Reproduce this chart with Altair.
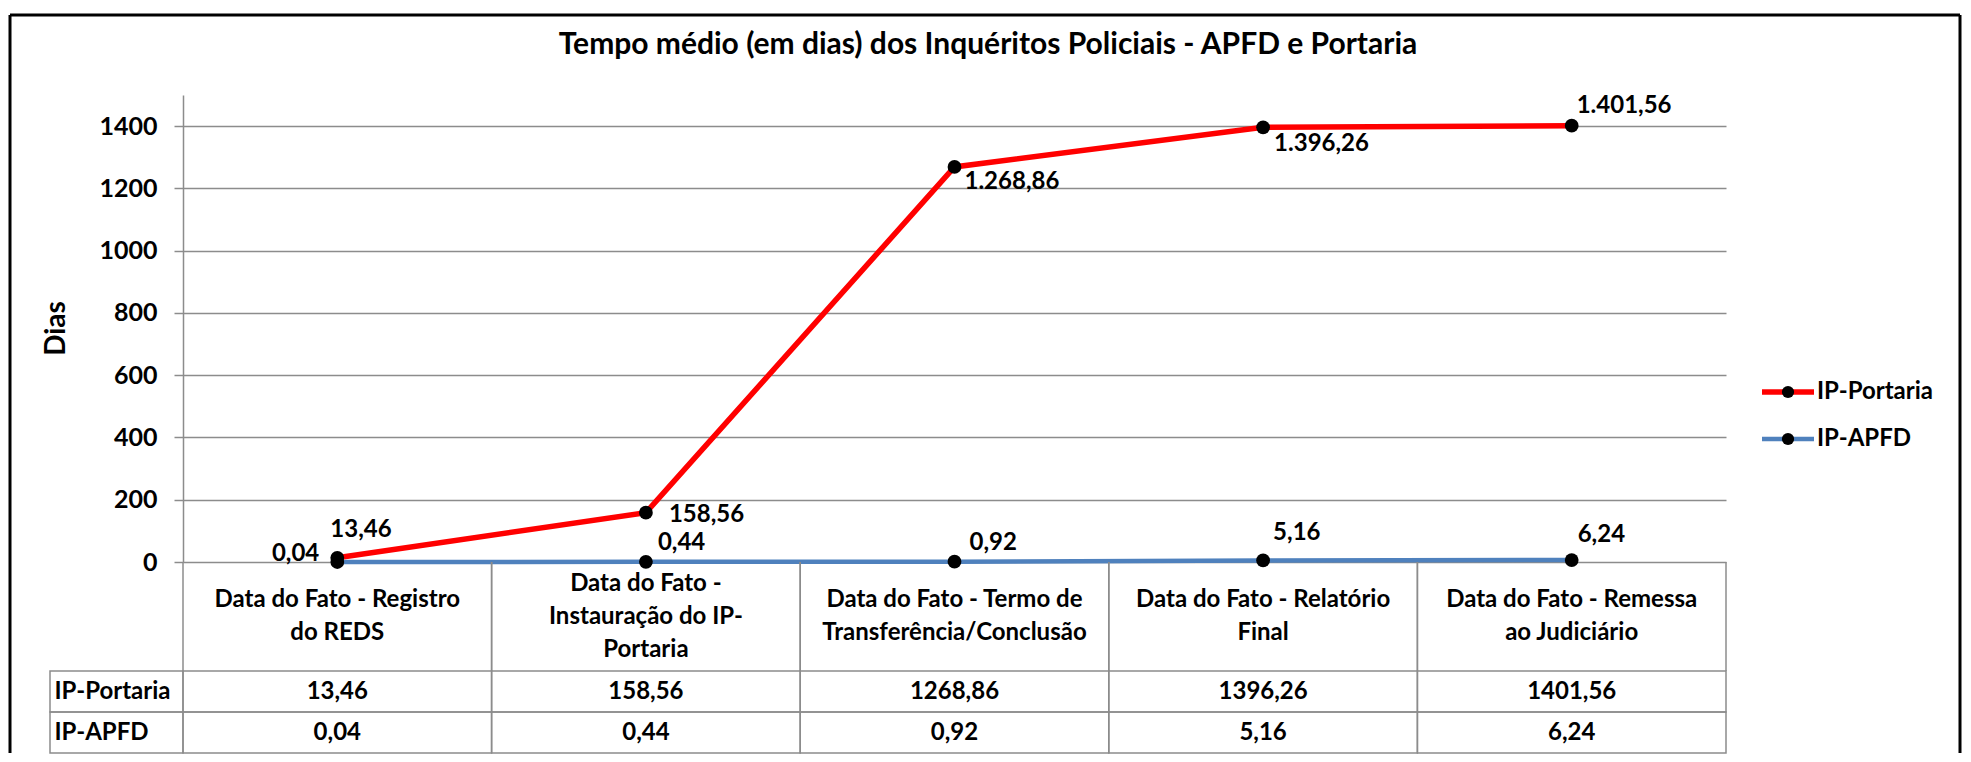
import altair as alt
import pandas as pd

# ---------------- data ----------------
categories = [
    "Data do Fato - Registro\ndo REDS",
    "Data do Fato -\nInstauração do IP-\nPortaria",
    "Data do Fato - Termo de\nTransferência/Conclusão",
    "Data do Fato - Relatório\nFinal",
    "Data do Fato - Remessa\nao Judiciário",
]
series_names = ["IP-Portaria", "IP-APFD"]
portaria = [13.46, 158.56, 1268.86, 1396.26, 1401.56]
apfd = [0.04, 0.44, 0.92, 5.16, 6.24]
y_ticks = [0, 200, 400, 600, 800, 1000, 1200, 1400]
title_text = "Tempo médio (em dias) dos Inquéritos Policiais - APFD e Portaria"
y_title = "Dias"

# ---------------- styles ----------------
FONT = "Lato"
colors = ["#FF0000", "#4F81BD"]
line_widths = [5.5, 4.5]
GRID = "#8c8c8c"
W, H_TOP, H_HEAD, H_ROWS = 1543, 467, 109, 82
LH = 33  # header line height
FS = 24  # general text size
MARKER = 190

# label placement per point: (align, dx, dy)
label_style = {
    ("IP-Portaria", 0): ("left", -7, -28),
    ("IP-Portaria", 1): ("left", 23, 2),
    ("IP-Portaria", 2): ("left", 10, 15),
    ("IP-Portaria", 3): ("left", 11, 17),
    ("IP-Portaria", 4): ("left", 5, -20),
    ("IP-APFD", 0): ("right", -18, -8),
    ("IP-APFD", 1): ("left", 12, -19),
    ("IP-APFD", 2): ("left", 15, -19),
    ("IP-APFD", 3): ("left", 10, -27),
    ("IP-APFD", 4): ("left", 6, -25),
}


def br_num(v, thousands):
    s = f"{v:,.2f}" if thousands else f"{v:.2f}"
    return s.replace(",", "X").replace(".", ",").replace("X", ".")


records = []
for s, vals in zip(series_names, [portaria, apfd]):
    for i, (c, v) in enumerate(zip(categories, vals)):
        records.append(dict(series=s, cat=c, idx=i, value=v,
                            chart_label=br_num(v, True),
                            table_label=br_num(v, False)))
df = pd.DataFrame(records)
df_cats = pd.DataFrame({"cat": categories, "nlines": [c.count("\n") + 1 for c in categories]})

X = alt.X("cat:N", sort=categories, scale=alt.Scale(type="point", padding=0.5), axis=None)
Y = alt.Y(
    "value:Q",
    scale=alt.Scale(domain=[0, 1500], nice=False),
    axis=alt.Axis(
        values=y_ticks, format="d", grid=True, gridColor=GRID, gridWidth=1.5,
        domainColor=GRID, domainWidth=1.5, tickColor=GRID, tickWidth=1.5, tickSize=9,
        labelPadding=17, labelFont=FONT, labelFontSize=25, labelFontWeight="bold",
        labelColor="black", title=y_title, titleFont=FONT, titleFontSize=28,
        titleFontWeight="bold", titleColor="black", titleX=-127, titleY=233,
        titleAngle=270, titleAlign="center", titleBaseline="middle",
    ),
)
color = alt.Color("series:N", scale=alt.Scale(domain=series_names, range=colors), legend=None)
swidth = alt.StrokeWidth("series:N", scale=alt.Scale(domain=series_names, range=line_widths), legend=None)

base = alt.Chart(df)
lines = base.mark_line().encode(x=X, y=Y, color=color, strokeWidth=swidth, detail="series:N")
points = base.mark_circle(size=MARKER, color="black", opacity=1).encode(x=X, y=Y)

label_layers = []
for (s, i), (al, dx, dy) in label_style.items():
    label_layers.append(
        base.transform_filter((alt.datum.series == s) & (alt.datum.idx == i))
        .mark_text(align=al, baseline="middle", dx=dx, dy=dy, font=FONT,
                   fontSize=FS, fontWeight="bold", color="black")
        .encode(x=X, y=Y, text="chart_label:N")
    )

dummy = alt.Chart(pd.DataFrame({"a": [0]}))
frame = [
    dummy.mark_rule(color="black", strokeWidth=3).encode(
        x=alt.value(-173), y=alt.value(-80), y2=alt.value(658)),
    dummy.mark_rule(color="black", strokeWidth=3).encode(
        x=alt.value(-173), x2=alt.value(1777), y=alt.value(-80)),
    dummy.mark_rule(color="black", strokeWidth=3).encode(
        x=alt.value(1777), y=alt.value(-80), y2=alt.value(658)),
]
title = alt.Chart(pd.DataFrame({"t": [title_text]})).mark_text(
    font=FONT, fontSize=30, fontWeight="bold", color="black",
    align="center", baseline="middle",
).encode(x=alt.value(805), y=alt.value(-50), text="t:N")

legend_layers = []
for k, s in enumerate(series_names):
    ly = 297 + 47 * k
    ld = alt.Chart(pd.DataFrame({"series": [s]}))
    legend_layers += [
        ld.mark_rule(color=colors[k], strokeWidth=line_widths[k]).encode(
            x=alt.value(1579), x2=alt.value(1631), y=alt.value(ly)),
        ld.mark_circle(size=150, color="black", opacity=1).encode(
            x=alt.value(1605), y=alt.value(ly)),
        ld.mark_text(font=FONT, fontSize=FS, fontWeight="bold", color="black",
                     align="left", baseline="middle").encode(
            x=alt.value(1634), y=alt.value(ly), text="series:N"),
    ]

top = alt.layer(*frame, title, *legend_layers, lines, points, *label_layers).properties(
    width=W, height=H_TOP)

# ---------------- table: header row ----------------
band = alt.Scale(paddingInner=0, paddingOuter=0)
XB = alt.X("cat:N", sort=categories, scale=band, axis=None)
hbase = alt.Chart(df_cats)
head_layers = [
    hbase.mark_rule(color=GRID, strokeWidth=1.5).encode(
        x=alt.X("cat:N", sort=categories, bandPosition=0, scale=band, axis=None)),
    hbase.mark_rule(color=GRID, strokeWidth=1.5).encode(
        x=alt.X("cat:N", sort=categories, bandPosition=1, scale=band, axis=None)),
]
for n in sorted(set(df_cats["nlines"])):
    head_layers.append(
        hbase.transform_filter(alt.datum.nlines == n).mark_text(
            font=FONT, fontSize=FS, fontWeight="bold", color="black",
            align="center", baseline="middle", lineBreak="\n", lineHeight=LH,
            dy=-(n - 1) * LH / 2,
        ).encode(x=XB, y=alt.value(H_HEAD / 2), text="cat:N")
    )
head = alt.layer(*head_layers).properties(width=W, height=H_HEAD)

# ---------------- table: value rows ----------------
YR = alt.Y("series:N", sort=series_names, scale=band,
           axis=alt.Axis(title=None, ticks=False, tickSize=0, domain=False, labelAlign="left",
                         labelPadding=129, labelFont=FONT, labelFontSize=FS,
                         labelFontWeight="bold", labelColor="black", labelBaseline="middle"))
rbase = alt.Chart(df)
rows = alt.layer(
    rbase.mark_rect(fillOpacity=0, stroke=GRID, strokeWidth=1.5).encode(x=XB, y=YR),
    alt.Chart(pd.DataFrame({"series": series_names})).mark_rect(
        fillOpacity=0, stroke=GRID, strokeWidth=1.5).encode(
        x=alt.value(-133), x2=alt.value(0), y=YR),
    rbase.mark_text(font=FONT, fontSize=FS, fontWeight="bold", color="black",
                    align="center", baseline="middle").encode(x=XB, y=YR, text="table_label:N"),
).properties(width=W, height=H_ROWS)

chart = alt.vconcat(top, head, rows, spacing=0, bounds="flush").properties(
    padding={"left": 0, "top": 5, "right": 0, "bottom": 0}
).configure_view(strokeWidth=0)

chart.save("out.html", embed_options={"renderer": "svg", "actions": False})
